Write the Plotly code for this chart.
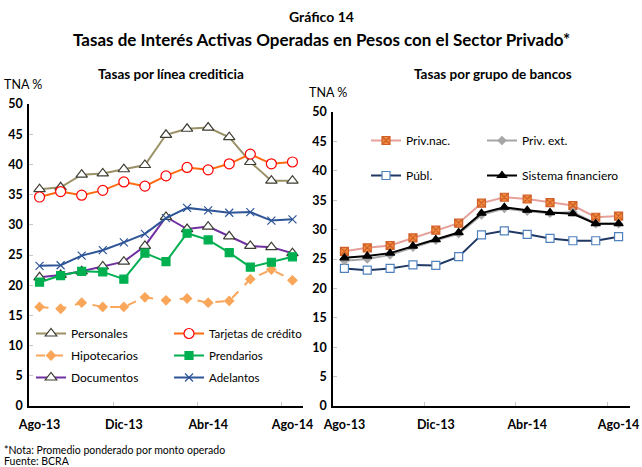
import plotly.graph_objects as go

# Data
# -------------------------------------------------------------------------
meses = ["Ago-13", "Sep-13", "Oct-13", "Nov-13", "Dic-13", "Ene-14", "Feb-14",
         "Mar-14", "Abr-14", "May-14", "Jun-14", "Jul-14", "Ago-14"]

# Tasas por línea crediticia
personales = [35.9, 36.2, 38.3, 38.5, 39.2, 39.9, 44.9, 45.9, 46.1, 44.5, 40.4, 37.3, 37.3]
tarjetas = [34.6, 35.5, 34.9, 35.7, 37.1, 36.4, 38.1, 39.5, 39.1, 40.1, 41.7, 40.1, 40.4]
hipotecarios = [16.4, 16.1, 17.1, 16.4, 16.4, 18.0, 17.5, 17.8, 17.1, 17.4, 21.0, 22.6, 20.8]
prendarios = [20.5, 21.6, 22.3, 22.2, 21.0, 25.3, 23.9, 28.6, 27.5, 25.4, 23.0, 23.8, 24.7]
documentos = [21.3, 21.7, 22.3, 23.1, 23.9, 26.5, 31.3, 29.3, 29.7, 28.1, 26.5, 26.3, 25.3]
adelantos = [23.2, 23.3, 24.9, 25.8, 27.1, 28.5, 31.1, 32.8, 32.4, 32.0, 32.1, 30.7, 30.9]

# Tasas por grupo de bancos
priv_nac = [26.3, 26.9, 27.3, 28.6, 29.9, 31.1, 34.5, 35.5, 35.2, 34.6, 34.1, 32.1, 32.3]
priv_ext = [24.7, 25.0, 25.7, 27.0, 28.2, 29.3, 32.5, 33.6, 33.1, 32.8, 33.0, 31.0, 31.0]
publ = [23.4, 23.1, 23.4, 24.0, 23.9, 25.4, 29.1, 29.8, 29.2, 28.5, 28.1, 28.1, 28.8]
sistema = [25.2, 25.5, 26.0, 27.2, 28.3, 29.5, 32.8, 33.8, 33.3, 32.9, 32.7, 31.0, 31.0]

FONT = "Lato"
W, H = 642, 467


def px(x):
    return x / W


def py(y):
    return 1 - y / H


def add_line(fig, y, name, color, symbol, size, mcolor, mline, xa, legend,
             dash="solid", lw=2):
    fig.add_trace(go.Scatter(
        x=meses, y=y, name=name, mode="lines+markers",
        line=dict(color=color, width=lw, dash=dash),
        marker=dict(symbol=symbol, size=size, color=mcolor,
                    line=dict(color=mline, width=1.2)),
        xaxis="x" + xa, yaxis="y" + xa, legend=legend, legendgroup=name,
    ))


fig = go.Figure()

# Left panel
add_line(fig, personales, "Personales", "#9A9167", "triangle-up", 10, "white", "#3d3d33", "", "legend")
add_line(fig, hipotecarios, "Hipotecarios", "#F9A65A", "diamond", 7, "#F9A65A", "#F9A65A", "", "legend", dash="dash")
add_line(fig, documentos, "Documentos", "#7030A0", "triangle-up", 10, "white", "#3d3d33", "", "legend")
add_line(fig, tarjetas, "Tarjetas de crédito", "#FF6A10", "circle", 10, "white", "#FF0000", "", "legend2")
add_line(fig, prendarios, "Prendarios", "#00B050", "square", 8, "#00B050", "#00B050", "", "legend2")
add_line(fig, adelantos, "Adelantos", "#2E5597", "x-thin", 8, "#2E5597", "#2E5597", "", "legend2")

# Right panel
add_line(fig, priv_nac, "Priv.nac.", "#E6A09A", "square-x", 8, "#F08A3C", "#D0602A", "2", "legend3")
add_line(fig, publ, "Públ.", "#1F3864", "square", 8, "white", "#4F81BD", "2", "legend3")
add_line(fig, priv_ext, "Priv. ext.", "#A6A6A6", "diamond", 6, "#A6A6A6", "#A6A6A6", "2", "legend4")
add_line(fig, sistema, "Sistema financiero", "#000000", "triangle-up", 8, "#000000", "#000000", "2", "legend4")

xa_common = dict(type="category", range=[-0.5, 12.5], dtick=4, tick0=0, tickangle=0,
                 tickson="boundaries", ticks="inside", ticklen=4, tickcolor="#c8c8c8",
                 showline=True, linecolor="black", linewidth=1.5, showgrid=False,
                 zeroline=False, ticklabelstandoff=6, automargin=False,
                 tickfont=dict(family=FONT, size=12.5, color="black", weight="bold"))
ya_common = dict(range=[0, 50], dtick=5, ticks="inside", ticklen=4, tickcolor="#c8c8c8",
                 showline=True, linecolor="black", linewidth=1.5, showgrid=False,
                 zeroline=False, ticklabelstandoff=2, automargin=False,
                 tickfont=dict(family=FONT, size=12.5, color="black", weight="bold"))

leg_common = dict(bgcolor="rgba(0,0,0,0)", font=dict(family=FONT, size=12, color="black"),
                  xanchor="left", yanchor="top", itemwidth=30, tracegroupgap=3)

fig.update_layout(
    width=W, height=H, margin=dict(l=0, r=0, t=0, b=0),
    paper_bgcolor="white", plot_bgcolor="white",
    xaxis=dict(domain=[px(29), px(303)], anchor="y", **xa_common),
    yaxis=dict(domain=[py(406), py(104)], anchor="x", **ya_common),
    xaxis2=dict(domain=[px(333), px(630)], anchor="y2", **xa_common),
    yaxis2=dict(domain=[py(406), py(112)], anchor="x2", **ya_common),
    legend=dict(x=px(31), y=py(319), **leg_common),
    legend2=dict(x=px(169), y=py(319), **{**leg_common, "font": dict(family=FONT, size=11.5, color="black")}),
    legend3=dict(x=px(366), y=py(126), **{**leg_common, "tracegroupgap": 16}),
    legend4=dict(x=px(482), y=py(126), **{**leg_common, "tracegroupgap": 16}),
    showlegend=True,
)

annots = [
    dict(text="<b>Gráfico 14</b>", x=321, y=16, size=14),
    dict(text="<b>Tasas de Interés Activas Operadas en Pesos con el Sector Privado*</b>", x=321, y=40, size=17),
    dict(text="<b>Tasas por línea crediticia</b>", x=171, y=74, size=13.5),
    dict(text="<b>Tasas por grupo de bancos</b>", x=493, y=74, size=13.5),
    dict(text="TNA %", x=23, y=84, size=12.5),
    dict(text="TNA %", x=328, y=93, size=12.5),
]
for a in annots:
    fig.add_annotation(text=a["text"], x=px(a["x"]), y=py(a["y"]), xref="paper", yref="paper",
                       xanchor="center", yanchor="middle", showarrow=False,
                       font=dict(family=FONT, size=a["size"], color="black"))

# footnote, one line each
for txt, yy in [("*Nota: Promedio ponderado por monto operado", 450), ("Fuente: BCRA", 461)]:
    fig.add_annotation(text=txt, x=px(2), y=py(yy), xref="paper", yref="paper", xanchor="left",
                       yanchor="middle", showarrow=False,
                       font=dict(family=FONT, size=10.5, color="black"))

# drop the default 8px page margin so the 642x467 figure fills the window
fig.write_html("out.html", config={"displayModeBar": False},
               post_script="document.body.style.margin='0px';")
